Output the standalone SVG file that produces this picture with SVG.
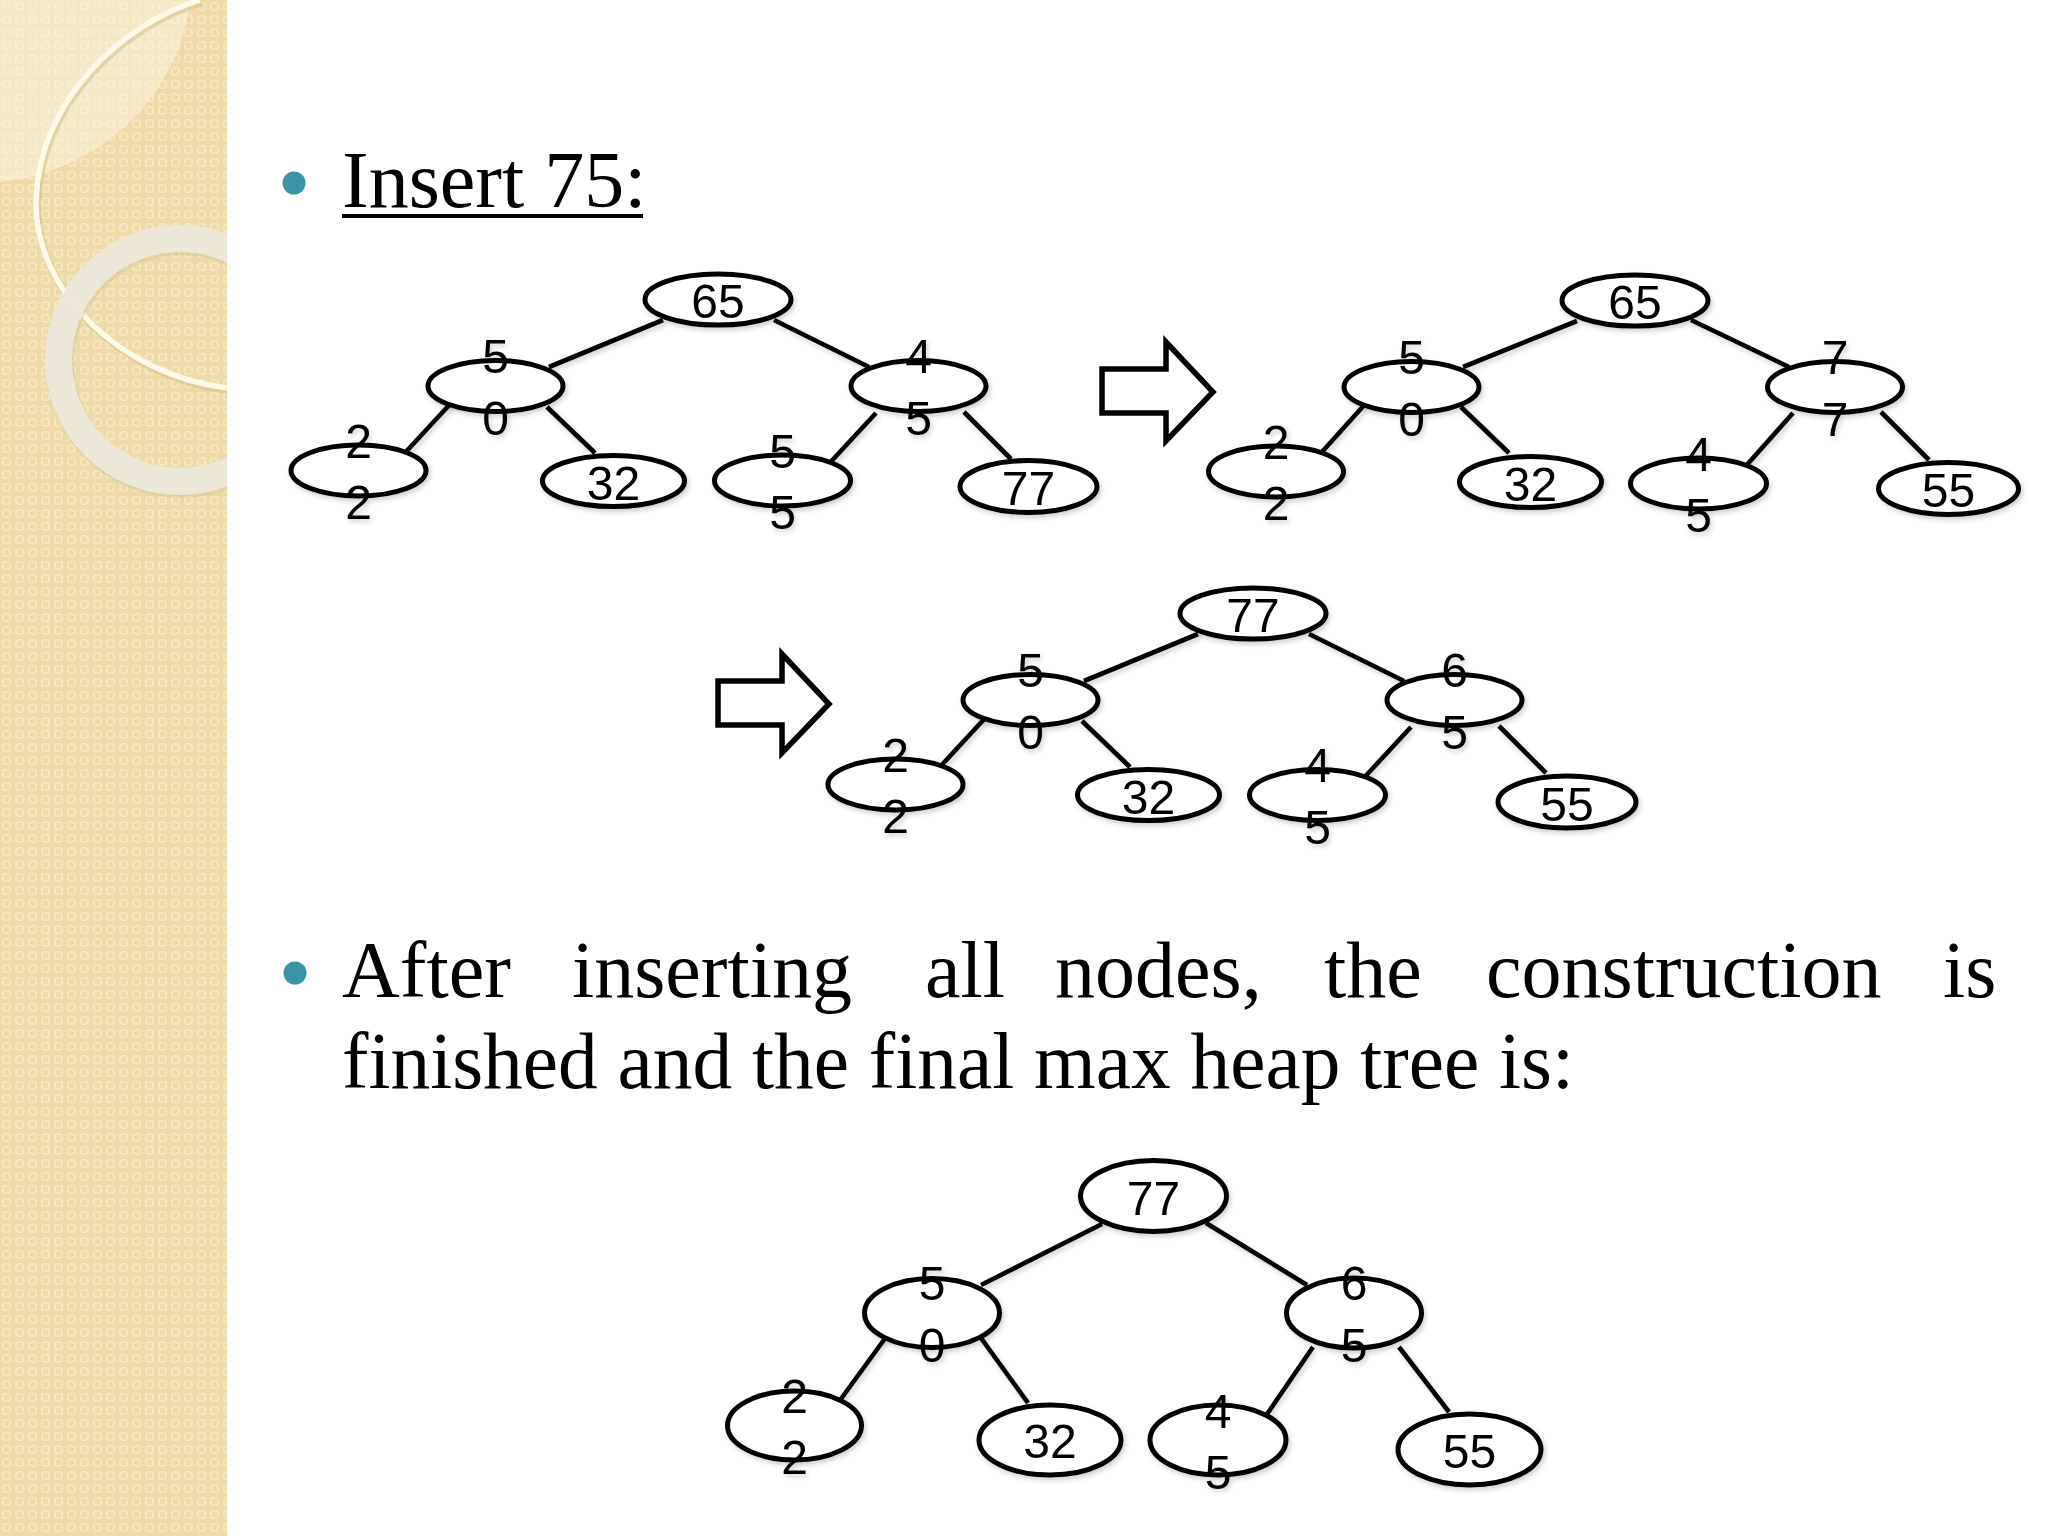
<svg xmlns="http://www.w3.org/2000/svg" width="2048" height="1536" viewBox="0 0 2048 1536">
<style>
.serif{font-family:"Liberation Serif","Times New Roman",serif;font-size:80px;fill:#000}
.lbl{font-family:"Liberation Sans",Arial,sans-serif;font-size:48px;fill:#000;text-anchor:middle}
.nd{fill:#fff;stroke:#000;stroke-width:5}
.ed line{stroke:#000;stroke-width:4.6;stroke-linecap:butt}
.arr{fill:#fff;stroke:#000;stroke-width:5.5;stroke-linejoin:miter}
</style>
<defs>
<pattern id="pat" width="13" height="13" patternUnits="userSpaceOnUse">
<rect width="13" height="13" fill="#eedaa8"/>
<rect x="3" y="3" width="7" height="7" rx="2" fill="none" stroke="#f6e9c5" stroke-width="1.6"/>
</pattern>
<clipPath id="side"><rect x="0" y="0" width="227" height="1536"/></clipPath>
<filter id="sh" x="-20%" y="-20%" width="140%" height="140%">
<feDropShadow dx="2" dy="3" stdDeviation="2.5" flood-color="#000" flood-opacity="0.18"/>
</filter>
</defs>
<rect x="0" y="0" width="2048" height="1536" fill="#fff"/>
<g id="sidebar" clip-path="url(#side)">
<rect x="0" y="0" width="227" height="1536" fill="url(#pat)"/>
<path d="M0,0 L190,0 C180,95 100,172 0,182 Z" fill="#fbf4de" opacity="0.55"/>
<path d="M200,0 C120,25 40,100 36,200 C34,290 120,375 227,388" fill="none" stroke="#cdb980" stroke-width="7" opacity="0.5" transform="translate(1.5,2.5)"/>
<path d="M200,0 C120,25 40,100 36,200 C34,290 120,375 227,388" fill="none" stroke="#fffaea" stroke-width="5.5"/>
<circle cx="180" cy="360" r="121.5" fill="none" stroke="#c9b98e" stroke-width="29" opacity="0.35" transform="translate(1,2)"/>
<circle cx="180" cy="360" r="121.5" fill="none" stroke="#ede8dc" stroke-width="27" opacity="0.93"/>
</g>
<g id="title">
<circle cx="294" cy="183" r="11.5" fill="#3b93a7"/>
<text class="serif" x="342" y="207">Insert 75:</text>
<line x1="342" y1="216" x2="643" y2="216" stroke="#000" stroke-width="4"/>
</g>
<g id="paragraph">
<circle cx="295" cy="973" r="11.5" fill="#3b93a7"/>
<text class="serif" y="997"><tspan x="342">After</tspan><tspan x="572">inserting</tspan><tspan x="925">all</tspan><tspan x="1055">nodes,</tspan><tspan x="1324">the</tspan><tspan x="1486">construction</tspan><tspan x="1943">is</tspan></text>
<text class="serif" x="342" y="1088" textLength="1232" lengthAdjust="spacingAndGlyphs">finished and the final max heap tree is:</text>
</g>
<g id="arrows">
<polygon id="arrow1" class="arr" points="1102,369 1166,369 1166,342 1213,392 1166,441 1166,413 1102,413"/>
<polygon id="arrow2" class="arr" points="718,681 782,681 782,654 829,704 782,753 782,725 718,725"/>
</g>
<g id="connectors" class="ed" filter="url(#sh)">
<line x1="663" y1="320" x2="549" y2="367"/>
<line x1="774" y1="320" x2="869" y2="367"/>
<line x1="452" y1="402" x2="403" y2="455"/>
<line x1="547" y1="407" x2="595" y2="453"/>
<line x1="876" y1="413" x2="826" y2="467"/>
<line x1="964" y1="412" x2="1011" y2="459"/>
<line x1="1577" y1="321" x2="1463" y2="367"/>
<line x1="1691" y1="320" x2="1789" y2="367"/>
<line x1="1367" y1="402" x2="1321" y2="453"/>
<line x1="1461" y1="407" x2="1509" y2="453"/>
<line x1="1793" y1="413" x2="1745" y2="467"/>
<line x1="1881" y1="412" x2="1929" y2="460"/>
<line x1="1198" y1="634" x2="1084" y2="681"/>
<line x1="1309" y1="634" x2="1404" y2="681"/>
<line x1="987" y1="716" x2="938" y2="769"/>
<line x1="1082" y1="721" x2="1130" y2="767"/>
<line x1="1411" y1="727" x2="1361" y2="781"/>
<line x1="1499" y1="726" x2="1546" y2="773"/>
<line x1="1102" y1="1224" x2="981" y2="1285"/>
<line x1="1206" y1="1223" x2="1307" y2="1285"/>
<line x1="889" y1="1333" x2="838" y2="1403"/>
<line x1="981" y1="1338" x2="1028" y2="1403"/>
<line x1="1313" y1="1347" x2="1263" y2="1420"/>
<line x1="1399" y1="1347" x2="1449" y2="1412"/>
</g>
<g id="tree1" filter="url(#sh)">
<g id="t1-65"><ellipse class="nd" cx="718" cy="299.5" rx="73" ry="25.5"/><text class="lbl" x="718" y="318">65</text></g>
<g id="t1-50"><ellipse class="nd" cx="495.5" cy="386" rx="67.5" ry="25.5"/><text class="lbl" x="495.5" y="373">5</text><text class="lbl" x="495.5" y="434.5">0</text></g>
<g id="t1-45"><ellipse class="nd" cx="918.5" cy="386" rx="67.5" ry="25.5"/><text class="lbl" x="918.5" y="373">4</text><text class="lbl" x="918.5" y="434.5">5</text></g>
<g id="t1-22"><ellipse class="nd" cx="358.5" cy="470.5" rx="67.5" ry="25.5"/><text class="lbl" x="358.5" y="457.5">2</text><text class="lbl" x="358.5" y="519">2</text></g>
<g id="t1-32"><ellipse class="nd" cx="613.5" cy="481" rx="71" ry="25.5"/><text class="lbl" x="613.5" y="499.5">32</text></g>
<g id="t1-55"><ellipse class="nd" cx="782.5" cy="480.5" rx="68" ry="25.5"/><text class="lbl" x="782.5" y="467.5">5</text><text class="lbl" x="782.5" y="529">5</text></g>
<g id="t1-77"><ellipse class="nd" cx="1028.5" cy="486.5" rx="68.5" ry="26"/><text class="lbl" x="1028.5" y="505">77</text></g>
</g>
<g id="tree2" filter="url(#sh)">
<g id="t2-65"><ellipse class="nd" cx="1635" cy="300.5" rx="73" ry="25.5"/><text class="lbl" x="1635" y="319">65</text></g>
<g id="t2-50"><ellipse class="nd" cx="1411.5" cy="387" rx="67.5" ry="25.5"/><text class="lbl" x="1411.5" y="374">5</text><text class="lbl" x="1411.5" y="435.5">0</text></g>
<g id="t2-77"><ellipse class="nd" cx="1835" cy="387" rx="67.5" ry="25.5"/><text class="lbl" x="1835" y="374">7</text><text class="lbl" x="1835" y="435.5">7</text></g>
<g id="t2-22"><ellipse class="nd" cx="1276" cy="471.5" rx="67.5" ry="25.5"/><text class="lbl" x="1276" y="458.5">2</text><text class="lbl" x="1276" y="520">2</text></g>
<g id="t2-32"><ellipse class="nd" cx="1530.5" cy="482" rx="71" ry="25.5"/><text class="lbl" x="1530.5" y="500.5">32</text></g>
<g id="t2-45"><ellipse class="nd" cx="1698.5" cy="483.5" rx="68" ry="25.5"/><text class="lbl" x="1698.5" y="470.5">4</text><text class="lbl" x="1698.5" y="532">5</text></g>
<g id="t2-55"><ellipse class="nd" cx="1948.5" cy="488.5" rx="70" ry="26"/><text class="lbl" x="1948.5" y="507">55</text></g>
</g>
<g id="tree3" filter="url(#sh)">
<g id="t3-77"><ellipse class="nd" cx="1253" cy="613.5" rx="73" ry="25.5"/><text class="lbl" x="1253" y="632">77</text></g>
<g id="t3-50"><ellipse class="nd" cx="1030.5" cy="700" rx="67.5" ry="25.5"/><text class="lbl" x="1030.5" y="687">5</text><text class="lbl" x="1030.5" y="748.5">0</text></g>
<g id="t3-65"><ellipse class="nd" cx="1454.5" cy="700" rx="67.5" ry="25.5"/><text class="lbl" x="1454.5" y="687">6</text><text class="lbl" x="1454.5" y="748.5">5</text></g>
<g id="t3-22"><ellipse class="nd" cx="895.5" cy="784.5" rx="67.5" ry="25.5"/><text class="lbl" x="895.5" y="771.5">2</text><text class="lbl" x="895.5" y="833">2</text></g>
<g id="t3-32"><ellipse class="nd" cx="1148.5" cy="795" rx="71" ry="25.5"/><text class="lbl" x="1148.5" y="813.5">32</text></g>
<g id="t3-45"><ellipse class="nd" cx="1317.5" cy="795" rx="68" ry="25.5"/><text class="lbl" x="1317.5" y="782">4</text><text class="lbl" x="1317.5" y="843.5">5</text></g>
<g id="t3-55"><ellipse class="nd" cx="1567" cy="802" rx="69" ry="26"/><text class="lbl" x="1567" y="820.5">55</text></g>
</g>
<g id="tree4" filter="url(#sh)">
<g id="t4-77"><ellipse class="nd" cx="1153.5" cy="1196" rx="73" ry="35.5"/><text class="lbl" x="1153.5" y="1214.5">77</text></g>
<g id="t4-50"><ellipse class="nd" cx="932" cy="1313" rx="67.5" ry="34.5"/><text class="lbl" x="932" y="1300">5</text><text class="lbl" x="932" y="1361.5">0</text></g>
<g id="t4-65"><ellipse class="nd" cx="1354" cy="1313" rx="67.5" ry="35"/><text class="lbl" x="1354" y="1300">6</text><text class="lbl" x="1354" y="1361.5">5</text></g>
<g id="t4-22"><ellipse class="nd" cx="794.5" cy="1425.5" rx="67" ry="34.5"/><text class="lbl" x="794.5" y="1413">2</text><text class="lbl" x="794.5" y="1474">2</text></g>
<g id="t4-32"><ellipse class="nd" cx="1050" cy="1440" rx="71" ry="35"/><text class="lbl" x="1050" y="1458">32</text></g>
<g id="t4-45"><ellipse class="nd" cx="1218" cy="1440" rx="68" ry="35"/><text class="lbl" x="1218" y="1427.5">4</text><text class="lbl" x="1218" y="1489">5</text></g>
<g id="t4-55"><ellipse class="nd" cx="1469.5" cy="1449.5" rx="71.5" ry="35.5"/><text class="lbl" x="1469.5" y="1468">55</text></g>
</g>
</svg>
